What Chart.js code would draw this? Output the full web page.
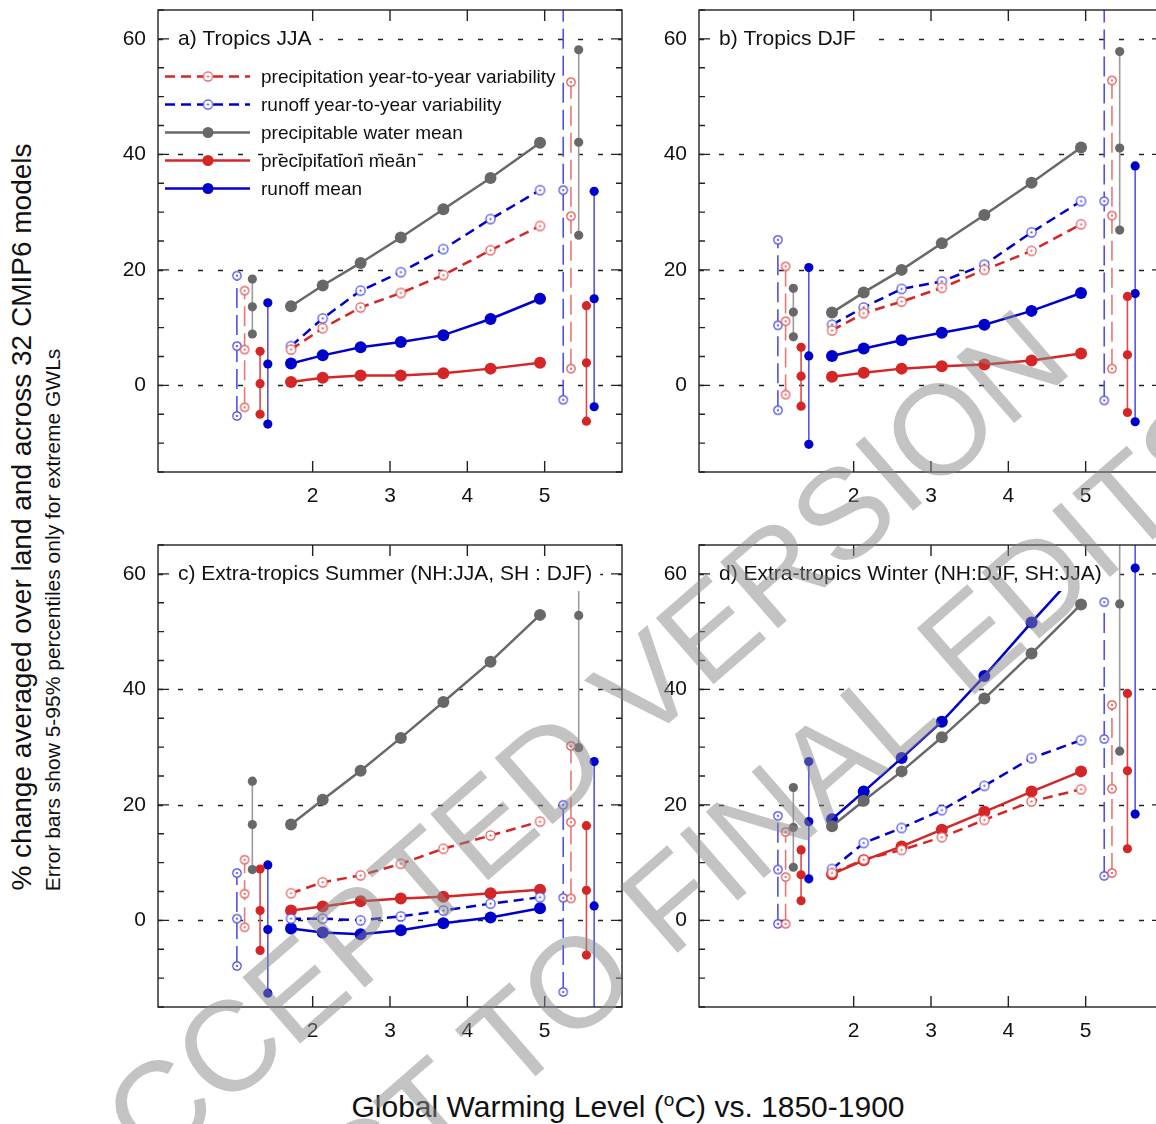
<!DOCTYPE html>
<html>
<head>
<meta charset="utf-8">
<script src="https://cdn.jsdelivr.net/npm/chart.js@4.4.1/dist/chart.umd.min.js"></script>
<style>
  html, body { margin: 0; padding: 0; background: #fff; overflow: hidden; width: 1156px; height: 1124px; }
  #wrap { position: relative; width: 1156px; height: 1124px; font-family: "Liberation Sans", Arial, sans-serif; color: #111; }
  canvas.panel { position: absolute; }
  .rot { position: absolute; white-space: nowrap; transform: translate(-50%, -50%) rotate(-90deg); }
  .wm { position: absolute; white-space: nowrap; transform: translate(-50%, -50%) rotate(-41deg);
        color: rgba(135, 135, 135, 0.5); font-size: 128px; pointer-events: none; }
</style>
</head>
<body>
<div id="wrap">
  <canvas id="pa" class="panel" width="540" height="520" style="left:100px;top:0px"></canvas>
  <canvas id="pb" class="panel" width="540" height="520" style="left:641px;top:0px"></canvas>
  <canvas id="pc" class="panel" width="540" height="520" style="left:100px;top:535px"></canvas>
  <canvas id="pd" class="panel" width="540" height="520" style="left:641px;top:535px"></canvas>
  <div class="rot" style="left:22px;top:517px;font-size:28px">% change averaged over land and across 32 CMIP6 models</div>
  <div class="rot" style="left:53px;top:620px;font-size:21px">Error bars show 5-95% percentiles only for extreme GWLs</div>
  <div style="position:absolute;left:628px;top:1106px;transform:translate(-50%,-50%);font-size:30px;white-space:nowrap">Global Warming Level (<sup style="font-size:19px">o</sup>C) vs. 1850-1900</div>
  <div class="wm" style="left:553px;top:765px">ACCEPTED VERSION</div>
  <div class="wm" style="left:620px;top:944px">SUBJECT TO FINAL EDITS</div>
</div>
<script>
// global warming levels (x) of the multi-model means
const gwl = [1.72, 2.13, 2.62, 3.14, 3.69, 4.30, 4.94];
const xTickValues = [2, 3, 4, 5];
const xTickLabels = ['2', '3', '4', '5'];
const yTickValues = [0, 20, 40, 60];
const yTickLabels = ['0', '20', '40', '60'];

// series order: precip var, runoff var, precipitable water, precip mean, runoff mean
const seriesNames = ['precipitation year-to-year variability', 'runoff year-to-year variability',
  'precipitable water mean', 'precipitation mean', 'runoff mean'];
const lowBarX = [1.12, 1.02, 1.22, 1.32, 1.42];
const highBarX = [5.34, 5.24, 5.44, 5.54, 5.64];

// a) Tropics JJA
const aPrVar = [6.2, 9.9, 13.5, 16.0, 19.1, 23.4, 27.6];
const aRoVar = [6.8, 11.6, 16.4, 19.6, 23.6, 28.8, 33.8];
const aPw = [13.7, 17.3, 21.2, 25.6, 30.5, 35.9, 42.0];
const aPr = [0.6, 1.3, 1.7, 1.7, 2.1, 2.9, 3.9];
const aRo = [3.8, 5.2, 6.6, 7.5, 8.7, 11.5, 15.0];
const aLowBars = [[-3.8, 6.2, 16.4], [-5.3, 6.8, 19.0], [8.9, 13.6, 18.4], [-5.0, 0.3, 5.9], [-6.7, 3.7, 14.3]];
const aHighBars = [[2.9, 29.3, 52.5], [-2.5, 33.8, 80], [26.0, 42.1, 58.1], [-6.2, 3.9, 13.8], [-3.7, 15.0, 33.6]];

// b) Tropics DJF
const bPrVar = [9.5, 12.5, 14.5, 16.9, 20.0, 23.3, 27.9];
const bRoVar = [10.5, 13.5, 16.7, 18.0, 20.9, 26.5, 31.9];
const bPw = [12.6, 16.1, 20.0, 24.6, 29.5, 35.1, 41.2];
const bPr = [1.5, 2.2, 2.9, 3.3, 3.6, 4.3, 5.5];
const bRo = [5.1, 6.4, 7.8, 9.1, 10.5, 12.9, 16.0];
const bLowBars = [[-1.6, 11.1, 20.6], [-4.3, 10.4, 25.2], [8.4, 12.7, 16.8], [-3.6, 1.6, 6.6], [-10.2, 5.1, 20.4]];
const bHighBars = [[2.9, 29.4, 52.8], [-2.6, 31.9, 80], [26.9, 41.1, 57.8], [-4.7, 5.3, 15.4], [-6.3, 15.9, 38.0]];

// c) Extra-tropics summer
const cPrVar = [4.7, 6.6, 7.8, 9.8, 12.4, 14.7, 17.1];
const cRoVar = [0.3, 0.3, 0.0, 0.7, 1.7, 2.9, 4.0];
const cPw = [16.6, 20.9, 25.9, 31.6, 37.8, 44.8, 52.9];
const cPr = [1.7, 2.4, 3.3, 3.8, 4.1, 4.7, 5.3];
const cRo = [-1.4, -2.1, -2.4, -1.7, -0.5, 0.5, 2.1];
const cLowBars = [[-1.2, 4.6, 10.5], [-7.9, 0.3, 8.2], [8.8, 16.6, 24.1], [-5.2, 1.7, 8.9], [-12.6, -1.6, 9.6]];
const cHighBars = [[3.8, 17.0, 30.2], [-12.4, 3.9, 20.0], [29.9, 52.8, 60], [-6.0, 5.2, 16.4], [-20, 2.5, 27.5]];

// d) Extra-tropics winter
const dPrVar = [8.2, 10.5, 12.2, 14.4, 17.4, 20.6, 22.7];
const dRoVar = [8.9, 13.4, 16.0, 19.1, 23.3, 28.1, 31.2];
const dPw = [16.3, 20.7, 25.8, 31.7, 38.4, 46.2, 54.7];
const dPr = [8.0, 10.4, 12.8, 15.7, 18.8, 22.3, 25.8];
const dRo = [17.5, 22.3, 28.1, 34.4, 42.3, 51.6, 61.0];
const dLowBars = [[-0.6, 7.5, 15.3], [-0.6, 8.8, 18.1], [9.2, 16.1, 23.0], [3.4, 7.9, 12.2], [7.2, 17.1, 27.5]];
const dHighBars = [[8.2, 22.8, 37.3], [7.7, 31.4, 55.1], [29.3, 54.8, 80], [12.4, 25.9, 39.3], [18.4, 61.0, 90]];

const FONT = 'Liberation Sans';
const RED = 'rgb(212,38,38)', BLUE = 'rgb(0,0,205)', GRAY = 'rgb(104,104,104)';
const lineColors = [RED, BLUE, GRAY, RED, BLUE];
const ringColors = ['rgb(228,80,80)', 'rgb(70,70,235)'];
const barColors = ['rgb(232,120,120)', 'rgb(80,80,235)', 'rgb(155,155,155)', 'rgb(222,75,75)', 'rgb(85,85,235)'];

function ring(color, r) {
  const c = document.createElement('canvas');
  const s = Math.ceil(r * 2 + 3);
  c.width = c.height = s;
  const g = c.getContext('2d');
  g.fillStyle = '#fff';
  g.beginPath(); g.arc(s / 2, s / 2, r, 0, Math.PI * 2); g.fill();
  g.strokeStyle = color; g.lineWidth = 1.2; g.stroke();
  g.fillStyle = color;
  g.beginPath(); g.arc(s / 2, s / 2, 1.1, 0, Math.PI * 2); g.fill();
  return c;
}
const lineRings = [ring(ringColors[0], 4.6), ring(ringColors[1], 4.6)];
const barRings = [ring(ringColors[0], 4.2), ring(ringColors[1], 4.2)];

function makeChart(id, series, lowBars, highBars, title, withLegend) {
  const datasets = [];
  series.forEach((vals, i) => {
    const hollow = i < 2;
    datasets.push({
      data: gwl.map((x, k) => ({ x: x, y: vals[k] })),
      borderColor: lineColors[i], borderWidth: 2.5, borderDash: hollow ? [10, 6] : [],
      pointStyle: hollow ? lineRings[i] : 'circle', pointRadius: 6,
      pointBackgroundColor: lineColors[i], pointBorderWidth: 0, tension: 0
    });
  });
  [[lowBars, lowBarX], [highBars, highBarX]].forEach(([bars, xs]) => {
    bars.forEach((b, i) => {
      const hollow = i < 2;
      datasets.push({
        data: b.map(y => ({ x: xs[i], y: y })),
        borderColor: barColors[i], borderWidth: 1.6, borderDash: hollow ? [20, 7] : [],
        pointStyle: hollow ? barRings[i] : 'circle', pointRadius: 4.6,
        pointBackgroundColor: lineColors[i], pointBorderWidth: 0
      });
    });
  });

  const ncl = {
    id: 'ncl',
    beforeDatasetsDraw(chart) {
      const { ctx, chartArea: ca, scales } = chart;
      ctx.save();
      ctx.strokeStyle = '#222'; ctx.lineWidth = 1.4; ctx.setLineDash([5, 15]);
      yTickValues.forEach(v => {
        const y = Math.round(scales.y.getPixelForValue(v)) + 0.5;
        ctx.beginPath(); ctx.moveTo(ca.left, y); ctx.lineTo(ca.right, y); ctx.stroke();
      });
      ctx.restore();
    },
    afterDatasetsDraw(chart) {
      const { ctx, chartArea: ca, scales } = chart;
      ctx.save();
      // title with white box
      ctx.font = '21px "' + FONT + '"';
      const w = ctx.measureText(title).width;
      const tx = ca.left + 20, ty = ca.top + 28;
      ctx.fillStyle = '#fff';
      ctx.fillRect(tx - 6, ty - 18, w + 14, 36);
      ctx.fillStyle = '#111'; ctx.textBaseline = 'middle';
      ctx.fillText(title, tx, ty + 1);
      // frame and inward ticks
      ctx.strokeStyle = '#222'; ctx.lineWidth = 1.4;
      ctx.strokeRect(ca.left, ca.top, ca.width, ca.height);
      ctx.beginPath();
      for (let v = -15; v <= 65; v += 5) {
        const y = scales.y.getPixelForValue(v);
        const len = yTickValues.includes(v) ? 11 : 6;
        ctx.moveTo(ca.left, y); ctx.lineTo(ca.left + len, y);
        ctx.moveTo(ca.right, y); ctx.lineTo(ca.right - len, y);
      }
      xTickValues.forEach(v => {
        const x = scales.x.getPixelForValue(v);
        ctx.moveTo(x, ca.bottom); ctx.lineTo(x, ca.bottom - 11);
        ctx.moveTo(x, ca.top); ctx.lineTo(x, ca.top + 11);
      });
      ctx.stroke();
      // legend (panel a only)
      if (withLegend) {
        seriesNames.forEach((name, i) => {
          const y = ca.top + 66.5 + i * 28;
          const x0 = ca.left + 7, x1 = ca.left + 92, xm = ca.left + 50;
          ctx.strokeStyle = lineColors[i]; ctx.lineWidth = 2.5;
          ctx.setLineDash(i < 2 ? [10, 6] : []);
          ctx.beginPath(); ctx.moveTo(x0, y); ctx.lineTo(x1, y); ctx.stroke();
          ctx.setLineDash([]);
          if (i < 2) {
            const img = lineRings[i];
            ctx.drawImage(img, xm - img.width / 2, y - img.height / 2);
          } else {
            ctx.fillStyle = lineColors[i];
            ctx.beginPath(); ctx.arc(xm, y, 5.5, 0, Math.PI * 2); ctx.fill();
          }
          ctx.font = '19px "' + FONT + '"';
          ctx.fillStyle = '#111'; ctx.textBaseline = 'middle';
          ctx.fillText(name, ca.left + 103, y + 1);
        });
      }
      ctx.restore();
    }
  };

  return new Chart(document.getElementById(id).getContext('2d'), {
    type: 'line',
    data: { datasets: datasets },
    options: {
      animation: false, responsive: false, devicePixelRatio: 1,
      layout: { padding: { left: 0, right: 18, top: 10, bottom: 0 }, autoPadding: false },
      plugins: { legend: { display: false }, tooltip: { enabled: false } },
      scales: {
        x: {
          type: 'linear', min: 0, max: 6,
          grid: { display: false, drawTicks: false }, border: { display: false },
          afterBuildTicks: s => { s.ticks = xTickValues.map(v => ({ value: v })); },
          afterFit: s => { s.height = 48; s.paddingLeft = 0; s.paddingRight = 0; },
          ticks: { padding: 12, autoSkip: false, maxRotation: 0, color: '#111',
                   font: { family: FONT, size: 21 }, callback: (v, i) => xTickLabels[i] }
        },
        y: {
          type: 'linear', min: -15, max: 65,
          grid: { display: false, drawTicks: false }, border: { display: false },
          afterBuildTicks: s => { s.ticks = yTickValues.map(v => ({ value: v })); },
          afterFit: s => { s.width = 58; s.paddingTop = 0; s.paddingBottom = 0; },
          ticks: { padding: 12, autoSkip: false, color: '#111',
                   font: { family: FONT, size: 21 }, callback: (v, i) => yTickLabels[i] }
        }
      }
    },
    plugins: [ncl]
  });
}

makeChart('pa', [aPrVar, aRoVar, aPw, aPr, aRo], aLowBars, aHighBars, 'a) Tropics JJA', true);
makeChart('pb', [bPrVar, bRoVar, bPw, bPr, bRo], bLowBars, bHighBars, 'b) Tropics DJF', false);
makeChart('pc', [cPrVar, cRoVar, cPw, cPr, cRo], cLowBars, cHighBars, 'c) Extra-tropics Summer (NH:JJA, SH : DJF)', false);
makeChart('pd', [dPrVar, dRoVar, dPw, dPr, dRo], dLowBars, dHighBars, 'd) Extra-tropics Winter (NH:DJF, SH:JJA)', false);
</script>
</body>
</html>
